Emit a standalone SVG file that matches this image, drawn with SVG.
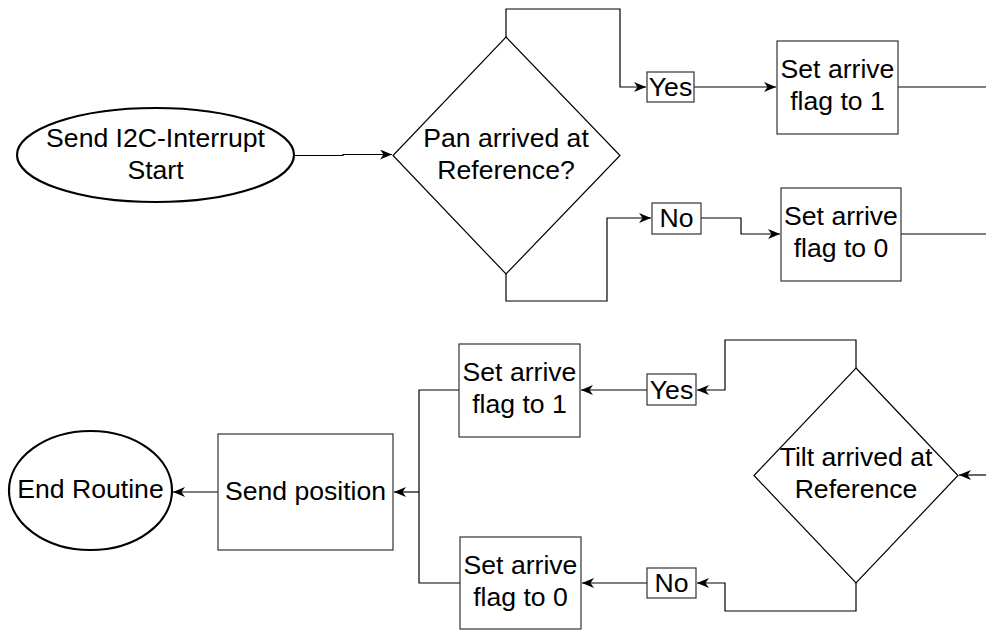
<svg xmlns="http://www.w3.org/2000/svg" width="986" height="630" viewBox="0 0 986 630">
  <style>
    text { font-family: "Liberation Sans", Arial, Helvetica, sans-serif; font-size: 26.6px; fill: #000; text-anchor: middle; }
    .box { fill: #fff; stroke: #333; stroke-width: 1.2; }
    .lbl { fill: #fff; stroke: #333; stroke-width: 1.2; }
    .term { fill: #fff; stroke: #000; stroke-width: 2.2; }
    .dec { fill: #fff; stroke: #000; stroke-width: 1.2; }
    .edge { fill: none; stroke: #000; stroke-width: 1.2; }
    .arr { marker-end: url(#arrow); }
  </style>
  <defs>
    <marker id="arrow" markerUnits="userSpaceOnUse" markerWidth="14" markerHeight="12" refX="12" refY="5" orient="auto">
      <path d="M0,0 L12,5 L0,10 L3.5,5 z" fill="#000"/>
    </marker>
  </defs>

  <g id="connectors">
    <!-- pan branch -->
    <path class="edge arr" d="M294,155.5 H343 V154.5 H392"/>
    <path class="edge arr" d="M506,37 V9 H620 V87 H646"/>
    <path class="edge arr" d="M694,87 H776"/>
    <path class="edge" d="M898,87 H986"/>
    <path class="edge arr" d="M506,274 V301 H607 V218 H651"/>
    <path class="edge arr" d="M701,218 H741 V234 H780"/>
    <path class="edge" d="M901,234 H986"/>
    <!-- tilt branch -->
    <path class="edge arr" d="M986,475 H959"/>
    <path class="edge arr" d="M856,368 V340 H725 V390 H697"/>
    <path class="edge arr" d="M647,390 H581"/>
    <path class="edge arr" d="M856,583 V611 H725 V583 H697"/>
    <path class="edge arr" d="M647,583 H582"/>
    <path class="edge" d="M459,390 H419 V583 H460"/>
    <path class="edge arr" d="M419,492 H394"/>
    <path class="edge arr" d="M218,492 H173"/>
  </g>

  <g id="start">
    <ellipse class="term" cx="155.5" cy="155" rx="138.5" ry="47"/>
    <text x="155.5" y="147">Send I2C-Interrupt</text>
    <text x="155.5" y="179">Start</text>
  </g>

  <g id="pan-check">
    <path class="dec" d="M506,37 L620,155.5 L506,274 L393,155.5 z"/>
    <text x="506" y="147">Pan arrived at</text>
    <text x="506" y="179">Reference?</text>
  </g>

  <g id="pan-yes">
    <rect class="lbl" x="647" y="72" width="47" height="30"/>
    <text x="670.5" y="96">Yes</text>
  </g>

  <g id="pan-set-1">
    <rect class="box" x="777" y="41" width="121" height="93"/>
    <text x="837.5" y="78">Set arrive</text>
    <text x="837.5" y="110">flag to 1</text>
  </g>

  <g id="pan-no">
    <rect class="lbl" x="652" y="203" width="49" height="31"/>
    <text x="676.5" y="227">No</text>
  </g>

  <g id="pan-set-0">
    <rect class="box" x="781" y="188" width="120" height="93"/>
    <text x="841" y="225">Set arrive</text>
    <text x="841" y="257">flag to 0</text>
  </g>

  <g id="tilt-check">
    <path class="dec" d="M856,368 L958,475.5 L856,583 L754,475.5 z"/>
    <text x="856" y="466">Tilt arrived at</text>
    <text x="856" y="498">Reference</text>
  </g>

  <g id="tilt-yes">
    <rect class="lbl" x="647" y="374" width="49" height="31"/>
    <text x="671.5" y="398.5">Yes</text>
  </g>

  <g id="tilt-set-1">
    <rect class="box" x="459" y="344" width="121" height="93"/>
    <text x="519.5" y="381">Set arrive</text>
    <text x="519.5" y="413">flag to 1</text>
  </g>

  <g id="tilt-no">
    <rect class="lbl" x="647" y="568" width="49" height="30"/>
    <text x="671.5" y="592">No</text>
  </g>

  <g id="tilt-set-0">
    <rect class="box" x="460" y="537" width="121" height="92"/>
    <text x="520.5" y="574">Set arrive</text>
    <text x="520.5" y="606">flag to 0</text>
  </g>

  <g id="send-position">
    <rect class="box" x="218" y="434" width="175" height="116"/>
    <text x="305.5" y="500">Send position</text>
  </g>

  <g id="end">
    <ellipse class="term" cx="90.5" cy="490.5" rx="81.5" ry="59.5"/>
    <text x="90.5" y="498">End Routine</text>
  </g>
</svg>
